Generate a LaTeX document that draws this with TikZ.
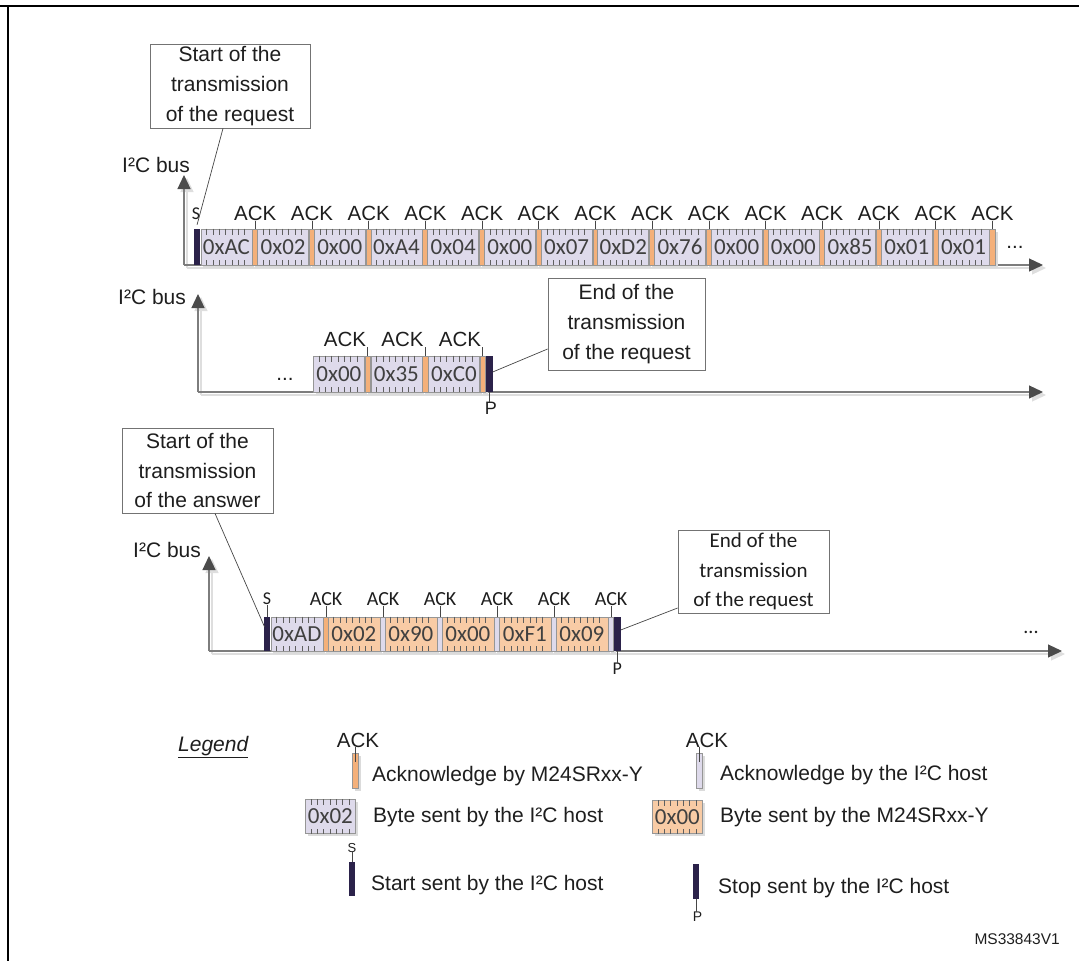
\documentclass[tikz,border=0pt]{standalone}
\usepackage{fontspec}
\setmainfont{Liberation Sans}
\newfontfamily\calfont{Carlito}
\usetikzlibrary{arrows.meta,calc,shadows}
\definecolor{hostc}{RGB}{222,218,235}
\definecolor{devc}{RGB}{248,203,165}
\definecolor{ackc}{RGB}{244,176,122}
\definecolor{darkbar}{RGB}{43,34,74}
\definecolor{boxg}{RGB}{150,150,150}
\definecolor{tickg}{RGB}{95,95,95}
\definecolor{axisg}{RGB}{125,125,125}
\definecolor{arrowg}{RGB}{75,75,75}
\definecolor{txt}{RGB}{30,30,30}
\definecolor{leadg}{RGB}{70,70,70}
\newcommand\byteticks[1]{%
  \foreach \k in {1,...,7}{%
    \draw[tickmark] ($(#1.north west)+(\k*6.3,0)$) -- ++(0,6);
    \draw[tickmark] ($(#1.south west)+(\k*6.3,0)$) -- ++(0,-5);
  }}
\tikzset{
 tickmark/.style={draw=tickg, line width=1pt},
 bytebox/.style={draw=boxg, line width=0.8pt, minimum width=51pt, minimum height=36pt, inner sep=0pt, text=txt!85,
   font=\calfont\fontsize{23}{24}\selectfont,
   drop shadow={shadow xshift=2.5pt,shadow yshift=-2.5pt,fill=black!14,opacity=1}},
 ackbar/.style={draw=boxg, line width=0.5pt, minimum width=5.5pt, minimum height=36pt, inner sep=0pt,
   drop shadow={shadow xshift=2.5pt,shadow yshift=-2.5pt,fill=black!14,opacity=1}},
 sbar/.style={fill=darkbar, minimum width=6.5pt, minimum height=36pt, inner sep=0pt},
 arlbl/.style={inner sep=0pt, text=txt, font=\fontsize{20.5}{24}\selectfont},
 callbl/.style={inner sep=0pt, text=txt, font=\calfont\fontsize{20}{24}\selectfont},
 smalllbl/.style={inner sep=0pt, text=txt, font=\calfont\fontsize{18}{20}\selectfont},
 leader/.style={draw=leadg, line width=0.7pt},
 callout/.style={draw=black!55, line width=0.8pt, fill=white, align=center, inner sep=0pt, text=txt},
 axis/.style={draw=axisg, line width=1.2pt, -{Triangle[length=14pt,width=13pt,color=arrowg]}},
 axshadow/.style={draw=black!13, line width=1.2pt, -{Triangle[length=14pt,width=13pt]}},
 legtxt/.style={inner sep=0pt, text=txt, font=\fontsize{21}{24}\selectfont, anchor=base west},
 buslbl/.style={inner sep=0pt, text=txt, font=\fontsize{21}{24}\selectfont, anchor=base west},
}
\begin{document}
\begin{tikzpicture}[x=1pt,y=-1pt]
\useasboundingbox (0,0) rectangle (1079,961);
% frame
\draw[line width=2.4pt] (0,6) -- (1079,6);
\draw[line width=2.4pt] (8,6) -- (8,961);

% ================= Row 1 =================
\coordinate (o1) at (184,265);
\coordinate (v1) at (184,175);
\coordinate (h1) at (1043,265);
\draw[axshadow] ($(o1)+(3,3)$) -- ($(v1)+(3,3)$);
\draw[axshadow] ($(o1)+(3,3)$) -- ($(h1)+(3,3)$);
\draw[axis] (o1) -- (v1);
\draw[axis] (o1) -- (h1);
\node[buslbl] (bus1) at (122,172) {I²C bus};
\foreach \t [count=\i from 0] in {0xAC,0x02,0x00,0xA4,0x04,0x00,0x07,0xD2,0x76,0x00,0x00,0x85,0x01,0x01}{
  \pgfmathsetmacro{\sx}{200.5+56.7*\i}
  \node[bytebox, fill=hostc, anchor=west] (ra\i) at (\sx,247) {\t};
  \byteticks{ra\i}
  \node[ackbar, fill=ackc, anchor=west] (rak\i) at (ra\i.east) {};
  \node[arlbl, anchor=base] (ral\i) at ($(rak\i.north)+(0,-8)$) {ACK};
  \draw[leader] (rak\i.north) -- (ral\i.base);
}
\node[sbar, anchor=east] (sa) at (ra0.west) {};
\node[smalllbl, anchor=base] (sal) at ($(sa.north)+(-1,-9)$) {S};
\node[arlbl] (da) at (1015,247) {...};
\node[callout, minimum width=160pt, minimum height=84pt, font=\fontsize{21}{30}\selectfont] (c1) at (230,86)
  {Start of the\\transmission\\of the request};
\draw[leader] ($(c1.south)+(-7,0)$) -- ($(sa.north)+(0,-4)$);

% ================= Row 2 =================
\coordinate (o2) at (198,392);
\coordinate (v2) at (198,294);
\coordinate (h2) at (1043,392);
\draw[axshadow] ($(o2)+(3,3)$) -- ($(v2)+(3,3)$);
\draw[axshadow] ($(o2)+(3,3)$) -- ($(h2)+(3,3)$);
\draw[axis] (o2) -- (v2);
\draw[axis] (o2) -- (h2);
\node[buslbl] (bus2) at (118,304) {I²C bus};
\foreach \t [count=\i from 0] in {0x00,0x35,0xC0}{
  \pgfmathsetmacro{\sx}{313+57.5*\i}
  \node[bytebox, fill=hostc, anchor=west] (rb\i) at (\sx,374) {\t};
  \byteticks{rb\i}
  \node[ackbar, fill=ackc, anchor=west] (rbk\i) at (rb\i.east) {};
  \node[arlbl, anchor=base east] (rbl\i) at ($(rbk\i.north)+(-1.5,-9)$) {ACK};
  \draw[leader] (rbk\i.north) -- (rbk\i.north |- rbl\i.base);
}
\node[sbar, anchor=west] (pb) at (rbk2.east) {};
\node[arlbl, font=\fontsize{18}{20}\selectfont, anchor=north] (pbl) at ($(pb.south)+(1.5,10)$) {P};
\draw[leader] (pb.south) -- (pb.south |- pbl.north);
\node[arlbl] (db) at (285,379) {...};
\node[callout, minimum width=157pt, minimum height=92pt, font=\fontsize{21}{30}\selectfont] (c2) at (626.5,324)
  {End of the\\transmission\\of the request};
\draw[leader] ($(c2.west)+(0,25)$) -- ($(pb.east)+(0,-2)$);

% ================= Row 3 =================
\coordinate (o3) at (209,651);
\coordinate (v3) at (209,556);
\coordinate (h3) at (1062,651);
\draw[axshadow] ($(o3)+(3,3)$) -- ($(v3)+(3,3)$);
\draw[axshadow] ($(o3)+(3,3)$) -- ($(h3)+(3,3)$);
\draw[axis] (o3) -- (v3);
\draw[axis] (o3) -- (h3);
\node[buslbl] (bus3) at (133,557) {I²C bus};
\foreach \t/\fc/\ac [count=\i from 0] in {0xAD/hostc/ackc,0x02/devc/hostc,0x90/devc/hostc,0x00/devc/hostc,0xF1/devc/hostc,0x09/devc/hostc}{
  \pgfmathsetmacro{\sx}{270.5+57*\i}
  \node[bytebox, fill=\fc, minimum width=52pt, minimum height=34pt, anchor=west] (rc\i) at (\sx,634) {\t};
  \byteticks{rc\i}
  \node[ackbar, fill=\ac, minimum width=5pt, minimum height=34pt, anchor=west] (rck\i) at (rc\i.east) {};
  \node[callbl, anchor=base] (rcl\i) at ($(rck\i.north)+(0,-11)$) {ACK};
  \draw[leader] (rck\i.north) -- (rcl\i.base);
}
\node[sbar, minimum height=34pt, anchor=east] (sc) at (rc0.west) {};
\node[smalllbl, anchor=base] (scl) at ($(sc.north)+(0,-12)$) {S};
\draw[leader] (sc.north) -- (sc.north |- scl.base);
\node[sbar, minimum height=34pt, anchor=west] (pc) at (rck5.east) {};
\node[smalllbl, anchor=north] (pcl) at ($(pc.south)+(0,12)$) {P};
\draw[leader] (pc.south) -- (pc.south |- pcl.north);
\node[callbl] (dc) at (1031,632) {...};
\node[callout, minimum width=151pt, minimum height=85pt, font=\fontsize{21}{29.5}\selectfont] (c3) at (197.5,470.5)
  {Start of the\\transmission\\of the answer};
\draw[leader] ($(c3.south)+(17.5,0)$) -- ($(sc.west)+(1,-7)$);
\node[callout, minimum width=151pt, minimum height=83pt, font=\calfont\fontsize{21}{29.5}\selectfont] (c4) at (753.5,571.5)
  {End of the\\transmission\\of the request};
\draw[leader] ($(c4.west)+(0,36.5)$) -- ($(pc.east)+(0,-4)$);

% ================= Legend =================
\node[legtxt, font=\itshape\fontsize{21}{24}\selectfont] (leg) at (178,751) {\underline{Legend}};
\node[arlbl, anchor=base] (lak1) at (358,747) {ACK};
\node[ackbar, fill=ackc, minimum width=6pt, minimum height=35pt, anchor=north] (lk1) at (355,753) {};
\draw[leader] (lk1.north |- lak1.base) -- ($(lk1.north)+(0,9)$);
\node[legtxt] (lt1) at (372,781) {Acknowledge by M24SRxx-Y};
\node[bytebox, fill=hostc, minimum width=50pt, minimum height=34pt, anchor=north west] (lb1) at (305,799) {0x02};
\byteticks{lb1}
\node[legtxt] (lt2) at (373,822) {Byte sent by the I²C host};
\node[inner sep=0pt, font=\fontsize{13}{14}\selectfont, text=txt, anchor=base] (ls) at (352,852) {S};
\node[sbar, minimum width=6pt, minimum height=34pt, anchor=north] (lsb) at (352,862) {};
\draw[leader] (lsb.north) -- (lsb.north |- ls.base);
\node[legtxt] (lt3) at (371,890) {Start sent by the I²C host};

\node[arlbl, anchor=base] (lak2) at (707,747) {ACK};
\node[ackbar, fill=hostc, minimum width=6pt, minimum height=35pt, anchor=north] (lk2) at (699,753) {};
\draw[leader] (lk2.north |- lak2.base) -- ($(lk2.north)+(0,9)$);
\node[legtxt] (lt4) at (720,780) {Acknowledge by the I²C host};
\node[bytebox, fill=devc, minimum width=50pt, minimum height=33pt, anchor=north west] (lb2) at (652,800) {0x00};
\byteticks{lb2}
\node[legtxt] (lt5) at (720,822) {Byte sent by the M24SRxx-Y};
\node[sbar, minimum width=6pt, minimum height=35pt, anchor=north] (lpb) at (696,864) {};
\node[inner sep=0pt, font=\fontsize{14}{15}\selectfont, text=txt, anchor=north] (lp) at (697.5,912) {P};
\draw[leader] (lpb.south) -- (lpb.south |- lp.north);
\node[legtxt] (lt6) at (718,893) {Stop sent by the I²C host};
\node[inner sep=0pt, font=\fontsize{15.5}{16}\selectfont, text=txt, anchor=base east] (ms) at (1060,944) {MS33843V1};
\end{tikzpicture}
\end{document}
